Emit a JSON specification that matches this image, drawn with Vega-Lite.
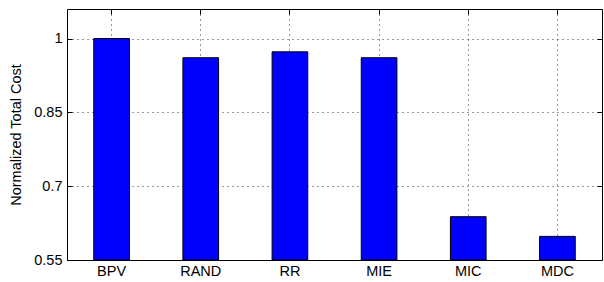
{
  "$schema": "https://vega.github.io/schema/vega-lite/v6.json",
  "width": 535,
  "height": 251,
  "autosize": {"type": "none"},
  "padding": {"left": 67, "top": 9, "right": 2, "bottom": 22},
  "background": "white",
  "config": {
    "view": {"stroke": "black", "strokeWidth": 1},
    "font": "Liberation Sans",
    "axis": {
      "labelFont": "Liberation Sans",
      "titleFont": "Liberation Sans",
      "labelColor": "black",
      "titleColor": "black",
      "domain": false,
      "tickColor": "black",
      "gridColor": "black",
      "gridDash": [1, 4],
      "gridOpacity": 0.8,
      "gridWidth": 1
    }
  },
  "data": {
    "values": [
      {"method": "BPV", "cost": 1.0},
      {"method": "RAND", "cost": 0.961},
      {"method": "RR", "cost": 0.973},
      {"method": "MIE", "cost": 0.961},
      {"method": "MIC", "cost": 0.638},
      {"method": "MDC", "cost": 0.598}
    ]
  },
  "layer": [
    {
      "mark": {"type": "bar", "color": "#0000ff", "stroke": "black", "strokeWidth": 1},
      "encoding": {
        "x": {
          "field": "method",
          "type": "nominal",
          "sort": null,
          "scale": {"paddingInner": 0.6, "paddingOuter": 0.3},
          "axis": {
            "title": null,
            "orient": "bottom",
            "labelAngle": 0,
            "labelFontSize": 14.5,
            "labelPadding": 9,
            "tickSize": -5,
            "grid": true
          }
        },
        "y": {
          "field": "cost",
          "type": "quantitative",
          "scale": {"domain": [0.55, 1.06], "zero": false, "nice": false},
          "axis": {
            "title": "Normalized Total Cost",
            "titleFontSize": 14.5,
            "titleFontWeight": "normal",
            "titlePadding": 10,
            "orient": "left",
            "values": [0.55, 0.7, 0.85, 1],
            "format": ".2~f",
            "labelFontSize": 14.5,
            "labelPadding": 10,
            "tickSize": -5,
            "grid": true
          }
        },
        "y2": {"datum": 0.55}
      }
    },
    {
      "mark": {"type": "bar", "opacity": 0},
      "encoding": {
        "x": {
          "field": "method",
          "type": "nominal",
          "sort": null,
          "axis": {"title": null, "orient": "top", "labels": false, "tickSize": -5, "grid": false}
        },
        "y": {
          "field": "cost",
          "type": "quantitative",
          "axis": {"title": null, "orient": "right", "labels": false, "values": [0.55, 0.7, 0.85, 1], "tickSize": -5, "grid": false}
        },
        "y2": {"datum": 0.55}
      }
    }
  ],
  "resolve": {"axis": {"x": "independent", "y": "independent"}}
}
